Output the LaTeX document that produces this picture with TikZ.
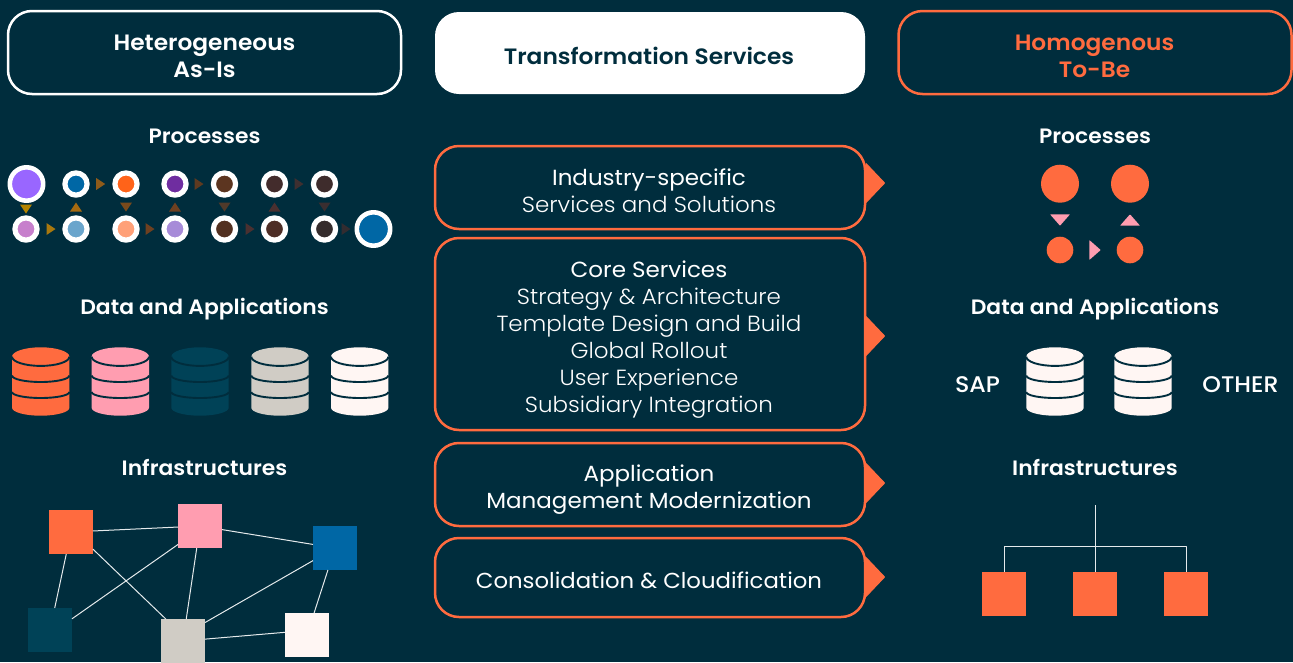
\documentclass[tikz,border=0pt]{standalone}
\usepackage{fontspec}
\setmainfont{Poppins}[BoldFont={Poppins SemiBold},FakeStretch=1.05]
\newfontfamily\lightfont{Poppins Light}[FakeStretch=1.05]
\newfontfamily\regfont{Poppins}[FakeStretch=1.05]
\newfontfamily\medfont{Poppins Medium}[FakeStretch=1.05]
\definecolor{bgdark}{HTML}{002D3D}
\definecolor{corange}{HTML}{FF6B3F}
\definecolor{cpink}{HTML}{FF9DB0}
\definecolor{cteal}{HTML}{004257}
\definecolor{cgrey}{HTML}{D0CCC5}
\definecolor{cwhite}{HTML}{FFF6F3}
\definecolor{cblue}{HTML}{0067A5}
\definecolor{cpurple}{HTML}{9966FF}
\tikzset{
	headbox/.style={draw,line width=2.5pt,rounded corners=24pt,inner sep=0pt},
	headtext/.style={text=white,font=\fontsize{22.2}{27}\selectfont\bfseries,align=center},
	svcbox/.style={draw=corange,line width=2.5pt,rounded corners=24pt,inner sep=0pt},
	svctext/.style={text=white,align=center,font=\fontsize{21.9}{27}\selectfont\lightfont},
	sechead/.style={text=white,font=\fontsize{20.8}{24}\selectfont\bfseries},
	sidelabel/.style={text=white,font=\fontsize{22.6}{24}\selectfont\medfont},
	procnode/.style={circle,draw=white,line width=5.2pt,minimum size=22.2pt,inner sep=0pt},
	procbig/.style={circle,draw=white,line width=4.6pt,minimum size=33.4pt,inner sep=0pt},
	infranode/.style={rectangle,minimum size=44pt,inner sep=0pt,outer sep=0pt},
	infraline/.style={draw=white!90!bgdark,line width=1pt}
}
\begin{document}
\begin{tikzpicture}[x=1pt,y=-1pt,line join=round]
	\useasboundingbox[fill=bgdark] (0,0) rectangle (1293,662);
	% hang tieu de
	\node[headbox,draw=white,minimum width=393pt,minimum height=83pt] (asis) at (204.5,52.5) {};
	\node[headbox,draw=none,fill=white,minimum width=430pt,minimum height=82pt] (trans) at (650,53) {};
	\node[headbox,draw=corange,minimum width=393pt,minimum height=83pt] (tobe) at (1095,52.5) {};
	\node[headtext] (asistxt) at (204.5,56) {Heterogeneous\\As-Is};
	\node[headtext,text=bgdark] (transtxt) at (649,56) {Transformation Services};
	\node[headtext,text=corange] (tobetxt) at (1094.5,56) {Homogenous\\To-Be};
	% tieu de cot
	\foreach \x in {204.5,1095}{
		\node[sechead] at (\x,136) {Processes};
		\node[sechead] at (\x,309) {Data and Applications};
		\node[sechead] at (\x,467) {Infrastructures};
	}
	% hop dich vu
	\node[svcbox,minimum width=430pt,minimum height=83pt] (svcA) at (650,187.5) {};
	\node[svcbox,minimum width=430pt,minimum height=192pt] (svcB) at (650,334) {};
	\node[svcbox,minimum width=430pt,minimum height=83pt] (svcC) at (650,484.5) {};
	\node[svcbox,minimum width=430pt,minimum height=79pt] (svcD) at (650,577.5) {};
	\node[svctext] (txtA) at (649,191) {{\regfont Industry-specific}\\Services and Solutions};
	\node[svctext] (txtB) at (649,339.5) {{\regfont Core Services}\\Strategy \& Architecture\\Template Design and Build\\Global Rollout\\User Experience\\Subsidiary Integration};
	\node[svctext] (txtC) at (649,489.5) {{\regfont Application}\\{\regfont Management Modernization}};
	\node[svctext] (txtD) at (649,580.5) {{\regfont\fontsize{21.7}{27}\selectfont Consolidation \& Cloudification}};
	% mui ten cam
	\foreach \y in {183,336,483,577}{
		\fill[corange,draw=corange,line width=1pt] (866,\y-19.5)--(884.5,\y)--(866,\y+19.5)--cycle;
	}
	% quy trinh ben trai
	\foreach \x/\y/\c/\n in {76/184/0067A5/a,126/184/FF6319/b,175/184/6F2DA0/c,224.5/184/5C3520/d,274.5/184/432C2C/e,324.5/184/3E2C2C/f,26/229/C77FCC/g,76/229/6AA5CC/h,126/229/FFA078/i,175/229/A78BD8/j,224.5/229/523020/k,274.5/229/4E2E26/l,324.5/229/352C2C/m}{
		\definecolor{cfill}{HTML}{\c}
		\node[procnode,fill=cfill] (p\n) at (\x,\y) {};
	}
	\node[procbig,fill=cpurple] (pstart) at (26.5,184) {};
	\node[procbig,fill=cblue] (pend) at (373.5,229) {};
	\foreach \x/\y/\r/\c in {26/209/270/B58400,76/207/90/A66A10,126/207/270/7A4A1C,175/207/90/6E4020,224.5/207/270/503A2A,274.5/207/90/4A3030,324.5/207/270/3A2E30,100.7/184/0/8F5B1A,199/184/0/5E3A20,299/184/0/3F2F30,51/229/0/A8780E,150/229/0/6E4020,250/229/0/4A3030,346/229/0/332C30}{
		\definecolor{cfill}{HTML}{\c}
		\begin{scope}[shift={(\x,\y)},rotate=\r]
			\fill[cfill] (-4.5,-6)--(4.5,0)--(-4.5,6)--cycle;
		\end{scope}
	}
	% quy trinh ben phai
	\node[circle,fill=corange,minimum size=38pt,inner sep=0pt] (qa) at (1060,183.7) {};
	\node[circle,fill=corange,minimum size=38pt,inner sep=0pt] (qb) at (1130,183.7) {};
	\node[circle,fill=corange,minimum size=26.6pt,inner sep=0pt] (qc) at (1060,250) {};
	\node[circle,fill=corange,minimum size=26.6pt,inner sep=0pt] (qd) at (1130,250) {};
	\foreach \x/\y/\r in {1060/220/270,1130/220/90,1095/250/0}{
		\begin{scope}[shift={(\x,\y)},rotate=\r]
			\fill[cpink,rounded corners=0.6pt] (-5.7,-10)--(5.7,0)--(-5.7,10)--cycle;
		\end{scope}
	}
	% co so du lieu
	\foreach \x/\c in {40.7/corange,120.3/cpink,200/cteal,280/cgrey,359.7/cwhite,1055/cwhite,1143/cwhite}{
		\begin{scope}[shift={(\x,0)}]
			\def\a{28.7} % ban truc lon
			\fill[\c] (-\a,356.7) arc [x radius=\a, y radius=9.4, start angle=180, end angle=360]
				-- (\a,407.7) arc [x radius=\a, y radius=8, start angle=0, end angle=180] -- cycle;
			\draw[bgdark,line width=1.9pt] (-\a,356.7) arc [x radius=\a, y radius=9.2, start angle=180, end angle=0];
			\draw[bgdark,line width=1.9pt] (-\a,375.5) arc [x radius=\a, y radius=6.5, start angle=180, end angle=0];
			\draw[bgdark,line width=1.9pt] (-\a,392) arc [x radius=\a, y radius=6, start angle=180, end angle=0];
		\end{scope}
	}
	\node[sidelabel] (sap) at (977.5,385) {SAP};
	\node[sidelabel] (other) at (1240.5,385) {OTHER};
	% ha tang ben trai
	\node[infranode,fill=corange] (iora) at (71,532) {};
	\node[infranode,fill=cpink] (ipin) at (200,526) {};
	\node[infranode,fill=cblue] (iblu) at (335,548) {};
	\node[infranode,fill=cteal] (itea) at (50,630) {};
	\node[infranode,fill=cgrey] (igre) at (183,641) {};
	\node[infranode,fill=cwhite] (iwhi) at (307,635) {};
	\draw[infraline] (iora) -- (ipin);
	\draw[infraline] (ipin) -- (iblu);
	\draw[infraline] (iora) -- (itea);
	\draw[infraline] (ipin.220) -- (itea.27);
	\draw[infraline] (iora.-38) -- (igre.128);
	\draw[infraline] (ipin) -- (igre);
	\draw[infraline] (iblu) -- (igre.40);
	\draw[infraline] (iblu) -- (iwhi);
	\draw[infraline] (igre) -- (iwhi.173);
	% ha tang ben phai
	\node[infranode,fill=corange] (ra) at (1004,594) {};
	\node[infranode,fill=corange] (rb) at (1095,594) {};
	\node[infranode,fill=corange] (rc) at (1186,594) {};
	\coordinate (rtop) at (1095,505);
	\coordinate (rbar) at (1095,546.7);
	\draw[infraline] (rtop) -- (rb.north);
	\draw[infraline] (ra.north) |- (rbar) -| (rc.north);
\end{tikzpicture}
\end{document}
